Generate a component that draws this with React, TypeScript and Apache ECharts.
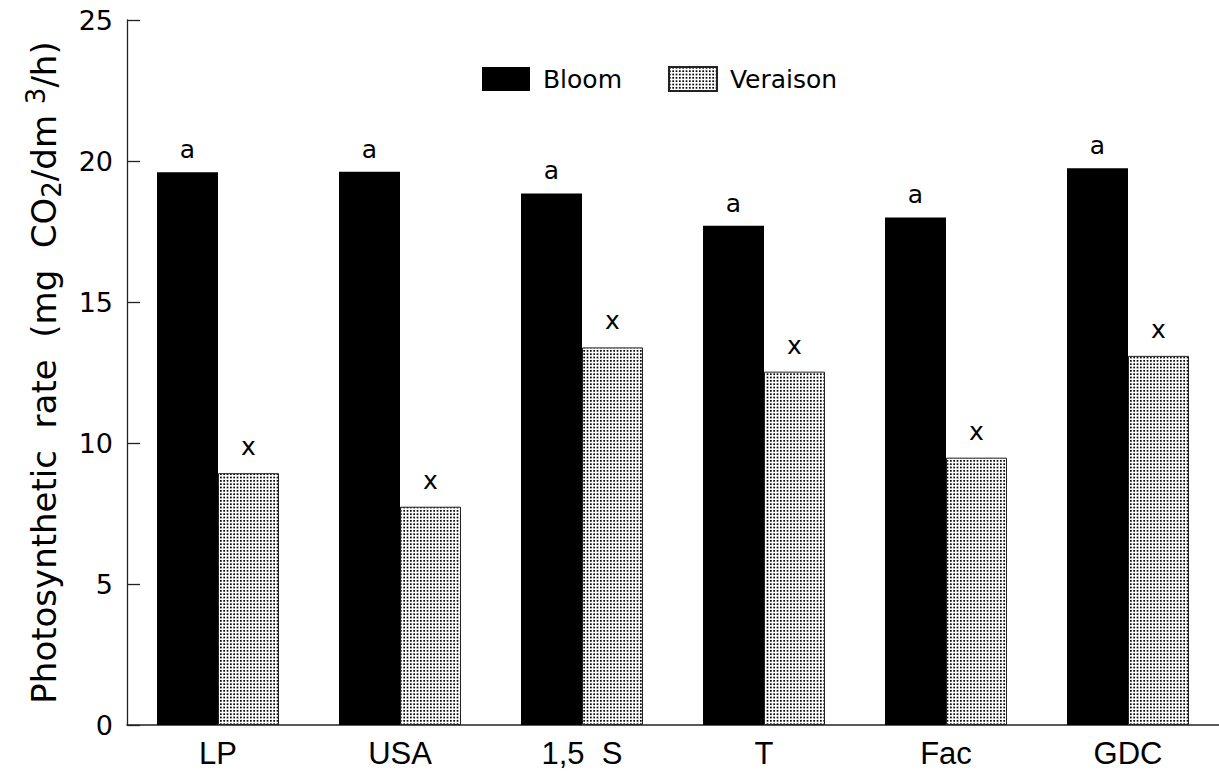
import React, { useEffect, useRef } from "react";
import * as echarts from "echarts";

const categories = ["LP", "USA", "1,5  S", "T", "Fac", "GDC"];
const bloomValues = [19.6, 19.62, 18.85, 17.7, 18.0, 19.74];
const veraisonValues = [8.93, 7.74, 13.39, 12.53, 9.48, 13.09];
const bloomLetters = ["a", "a", "a", "a", "a", "a"];
const veraisonLetters = ["x", "x", "x", "x", "x", "x"];
const yTicks = { min: 0, max: 25, interval: 5 };

const FONT = "Liberation Sans, Arial, Helvetica, sans-serif";
const WIDE = "DejaVu Sans, Verdana, sans-serif";

function makeDotPattern() {
  const c = document.createElement("canvas");
  c.width = 20;
  c.height = 20;
  const ctx = c.getContext("2d")!;
  ctx.fillStyle = "#fff";
  ctx.fillRect(0, 0, 20, 20);
  ctx.fillStyle = "#000";
  for (let i = 0; i < 6; i++) {
    for (let j = 0; j < 6; j++) {
      ctx.fillRect(i * (20 / 6), j * (20 / 6), 1.7, 1.7);
    }
  }
  return { image: c, repeat: "repeat", imageWidth: 20, imageHeight: 20 } as any;
}

export default function App() {
  const ref = useRef<HTMLDivElement>(null);
  useEffect(() => {
    if (!ref.current) return;
    const chart = echarts.init(ref.current, null, { renderer: "svg" });
    const pattern = makeDotPattern();
    chart.setOption({
      animation: false,
      backgroundColor: "#fff",
      textStyle: { fontFamily: FONT, color: "#000" },
      legend: {
        left: 477,
        top: 61,
        itemWidth: 48,
        itemHeight: 24,
        itemGap: 46,
        icon: "rect",
        formatter: (name: string) => " " + name,
        textStyle: { fontSize: 25, color: "#000", fontFamily: WIDE },
        data: ["Bloom", "Veraison"],
      },
      grid: { left: 127, right: -7, top: 20, bottom: 47, containLabel: false },
      xAxis: {
        type: "category",
        data: categories,
        axisTick: { show: false },
        axisLine: { lineStyle: { color: "#222", width: 1.5 } },
        axisLabel: { fontSize: 31, color: "#000", margin: 13, fontFamily: FONT },
      },
      yAxis: {
        type: "value",
        min: yTicks.min,
        max: yTicks.max,
        interval: yTicks.interval,
        splitLine: { show: false },
        axisLine: { show: true, lineStyle: { color: "#222", width: 1.3 } },
        axisTick: { show: true, inside: true, length: 13, lineStyle: { color: "#222", width: 1.3 } },
        axisLabel: { fontSize: 27, color: "#000", margin: 14, fontFamily: WIDE },
        name: "Photosynthetic  rate  (mg  CO{sub|2}/dm {sup|3}/h)",
        nameLocation: "middle",
        nameRotate: 90,
        nameGap: 62,
        nameTextStyle: {
          fontSize: 34,
          lineHeight: 42,
          color: "#000",
          fontFamily: WIDE,
          rich: {
            sub: { fontSize: 26, lineHeight: 26, verticalAlign: "bottom", color: "#000", fontFamily: WIDE },
            sup: { fontSize: 26, lineHeight: 26, verticalAlign: "top", color: "#000", fontFamily: WIDE },
          },
        },
      },
      series: [
        {
          name: "Bloom",
          type: "bar",
          data: bloomValues,
          barWidth: 61,
          barGap: "0%",
          itemStyle: { color: "#000" },
          label: {
            show: true,
            position: "top",
            distance: 10,
            fontSize: 25,
            color: "#000",
            fontFamily: WIDE,
            formatter: (p: any) => bloomLetters[p.dataIndex],
          },
        },
        {
          name: "Veraison",
          type: "bar",
          data: veraisonValues,
          barWidth: 61,
          barGap: "0%",
          itemStyle: { color: pattern, borderColor: "#222", borderWidth: 1 },
          label: {
            show: true,
            position: "top",
            distance: 14,
            fontSize: 25,
            color: "#000",
            fontFamily: WIDE,
            formatter: (p: any) => veraisonLetters[p.dataIndex],
          },
        },
      ],
    });
    return () => chart.dispose();
  }, []);
  return (
    <div
      ref={ref}
      style={{ position: "absolute", left: 0, top: 0, width: 1219, height: 772 }}
    />
  );
}
